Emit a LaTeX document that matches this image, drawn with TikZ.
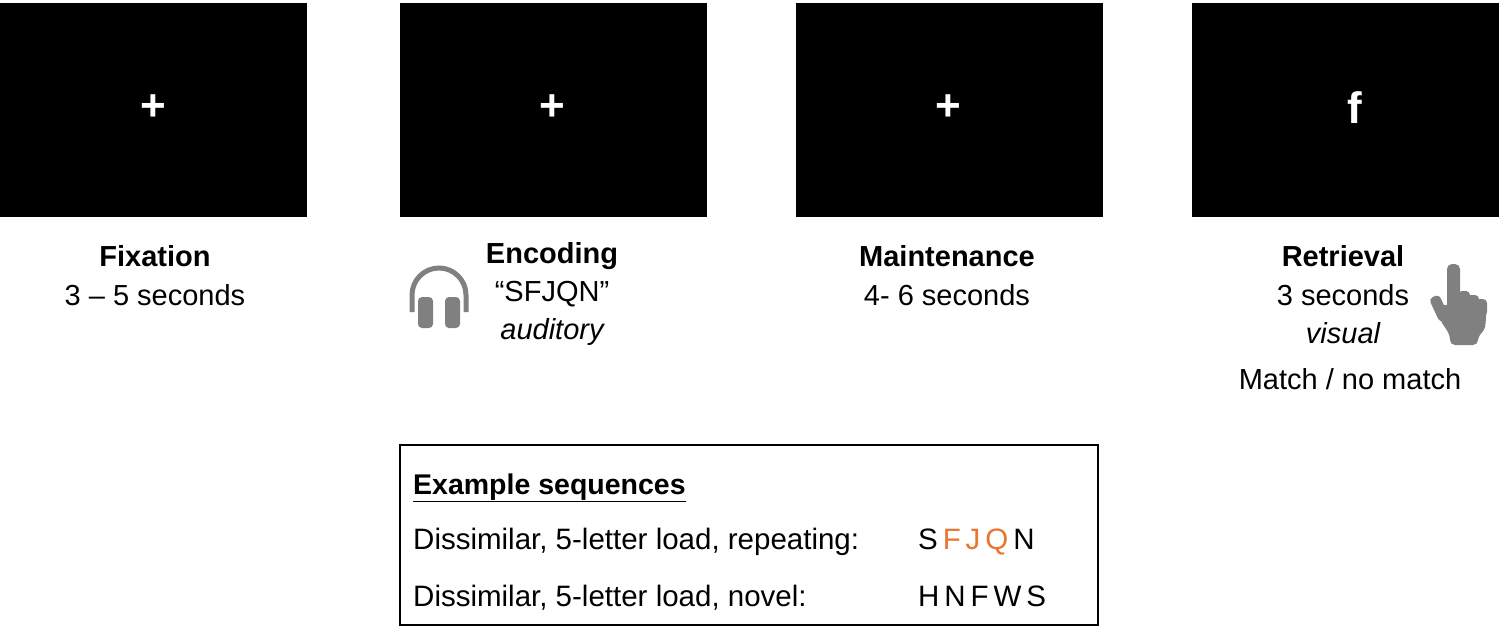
\documentclass[tikz,border=0pt]{standalone}
\usepackage{fontspec}
\setmainfont{Liberation Sans}
\definecolor{iconc}{RGB}{128,128,128}
\definecolor{orng}{RGB}{232,118,48}
\begin{document}
\begin{tikzpicture}[x=1pt,y=-1pt,
  screen/.style={fill=black,draw=none},
  lbl/.style={font=\fontsize{29}{33}\selectfont,inner sep=0pt,anchor=base},
  ttl/.style={lbl,font=\fontsize{29}{33}\selectfont\bfseries},
  cross/.style={text=white,font=\fontsize{44}{44}\selectfont\bfseries,inner sep=0pt},
  ex/.style={font=\fontsize{29.5}{33}\selectfont,inner sep=0pt,anchor=base west}]
\useasboundingbox (0,0) rectangle (1499,629);
\foreach \x in {0,400,796,1192}{
  \fill[screen] (\x,3) rectangle ++(307,214);
}
\node[cross] (ca) at (153.5,108) {+};
\node[cross] (cb) at (552,108) {+};
\node[cross] (cc) at (948,108) {+};
\node[cross] (cd) at (1355,108) {f};
% labels
\node[ttl] (t1) at (155,266) {Fixation};
\node[lbl] (s1) at (155,305) {3 – 5 seconds};
\node[ttl] (t2) at (552,263) {Encoding};
\node[lbl] (s2) at (552,301) {“SFJQN”};
\node[lbl,font=\fontsize{29}{33}\selectfont\itshape] (s2b) at (552,339) {auditory};
\node[ttl] (t3) at (947,266) {Maintenance};
\node[lbl] (s3) at (947,305) {4- 6 seconds};
\node[ttl] (t4) at (1343,266) {Retrieval};
\node[lbl] (s4) at (1343,305) {3 seconds};
\node[lbl,font=\fontsize{29}{33}\selectfont\itshape] (s4b) at (1343,343) {visual};
\node[lbl] (s4c) at (1350,389) {Match / no match};
% headphones
\draw[iconc,line width=5pt] (412,312) -- (412,295) arc[start angle=180,end angle=360,radius=27] -- (466,312);
\fill[iconc,rounded corners=4pt] (418,297) rectangle (433,328);
\fill[iconc,rounded corners=4pt] (445,297) rectangle (460,328);
% hand
\begin{scope}[iconc]
\fill[rounded corners=5pt] (1447,264) rectangle (1460,310);
\fill[rounded corners=4pt] (1458,291) rectangle (1470,312);
\fill[rounded corners=4pt] (1467,295) rectangle (1479,314);
\fill[rounded corners=4pt] (1476,299) rectangle (1487,316);
\fill[rounded corners=5pt] (1438,305) -- (1487,305) -- (1485,330) -- (1478,336) -- (1478,345) -- (1450,345) -- (1450,335) -- (1440,320) -- cycle;
\fill[rounded corners=4pt,rotate around={25:(1436,300)}] (1430,296) rectangle (1441,322);
\end{scope}
% example box
\draw[line width=1.2pt] (400,445) rectangle (1098,625);
\node[ex,font=\fontsize{28.5}{33}\selectfont\bfseries] (eh) at (413,494) {\underline{Example sequences}};
\node[ex] (e1) at (413,549) {Dissimilar, 5-letter load, repeating:};
\node[ex] (e1s) at (918,549) {S\,\textcolor{orng}{F\,J\,Q}\,N};
\node[ex] (e2) at (413,606) {Dissimilar, 5-letter load, novel:};
\node[ex] (e2s) at (918,606) {H\,N\,F\,W\,S};
\end{tikzpicture}
\end{document}
